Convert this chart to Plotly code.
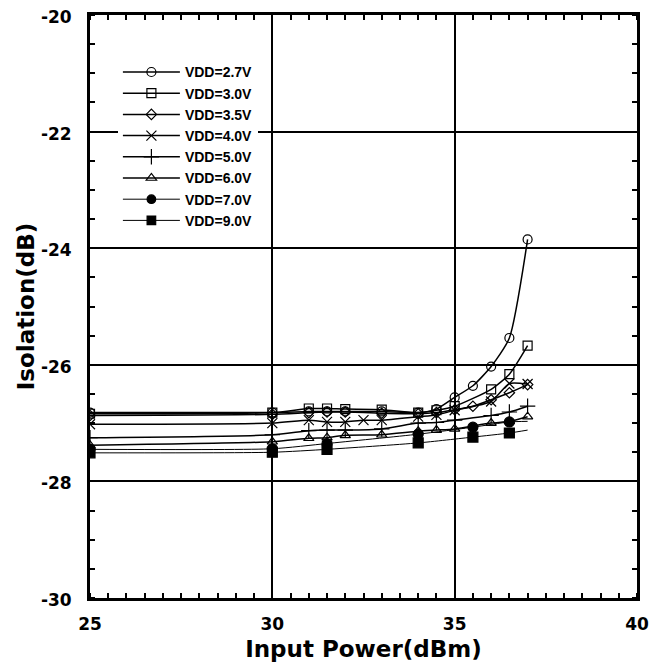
import plotly.graph_objects as go

# ---- data ----
x_27 = [25, 30, 31, 31.5, 32, 33, 34, 34.5, 35, 35.5, 36, 36.5, 37]
y_27 = [-26.82, -26.82, -26.80, -26.80, -26.80, -26.80, -26.82, -26.76, -26.56, -26.36, -26.03, -25.54, -23.85]

x_30 = [25, 30, 31, 31.5, 32, 33, 34, 34.5, 35, 36, 36.5, 37]
y_30 = [-26.84, -26.82, -26.75, -26.75, -26.76, -26.77, -26.82, -26.78, -26.71, -26.42, -26.16, -25.67]

x_35 = [25, 30, 31, 31.5, 32, 33, 34, 34.5, 35, 35.5, 36, 36.5, 37]
y_35 = [-26.87, -26.85, -26.82, -26.81, -26.81, -26.83, -26.84, -26.82, -26.77, -26.71, -26.60, -26.48, -26.34]

x_40 = [25, 30, 31, 31.5, 32, 32.5, 33, 34, 34.5, 35, 36, 36.5, 37]
y_40 = [-27.02, -27.00, -26.95, -26.98, -26.98, -26.95, -26.95, -26.89, -26.86, -26.78, -26.63, -26.32, -26.33]

x_50 = [25, 30, 31, 31.5, 32, 33, 34, 34.5, 35, 36, 36.5, 37]
y_50 = [-27.25, -27.20, -27.13, -27.12, -27.12, -27.10, -27.00, -26.99, -26.95, -26.87, -26.81, -26.71]

x_60 = [25, 30, 31, 31.5, 32, 33, 34, 34.5, 35, 36, 36.5, 37]
y_60 = [-27.38, -27.32, -27.26, -27.25, -27.21, -27.20, -27.14, -27.12, -27.10, -27.00, -26.97, -26.89]

x_70 = [25, 30, 31.5, 34, 35.5, 36.5, 37]
y_70 = [-27.45, -27.44, -27.35, -27.19, -27.07, -26.98, -26.97]

x_90 = [25, 30, 31.5, 34, 35.5, 36.5, 37]
y_90 = [-27.51, -27.50, -27.45, -27.34, -27.24, -27.17, -27.12]

names = ["VDD=2.7V", "VDD=3.0V", "VDD=3.5V", "VDD=4.0V",
         "VDD=5.0V", "VDD=6.0V", "VDD=7.0V", "VDD=9.0V"]

x_ticks = [25, 30, 35, 40]
y_ticks = [-30, -28, -26, -24, -22, -20]

series = [
    (x_27, y_27, "circle-open", 9, 1.5, None),
    (x_30, y_30, "square-open", 9, 1.5, None),
    (x_35, y_35, "diamond-open", 8, 1.5, None),
    (x_40, y_40, "x-thin-open", 10, 1.5, None),
    (x_50, y_50, "cross-thin-open", 11, 1.5, None),
    (x_60, y_60, "triangle-up-open", 9, 1.5, None),
    (x_70, y_70, "circle", 10, 1.0, [10, 10, 10, 10, 10, 10, 0]),
    (x_90, y_90, "square", 10, 1.0, [10, 10, 10, 10, 10, 10, 0]),
]

FONT = "Liberation Sans, Arial, sans-serif"
WIDE = "DejaVu Sans, Verdana, sans-serif"

fig = go.Figure()
for (xs, ys, sym, sz, lw, sizes), nm in zip(series, names):
    fig.add_trace(go.Scatter(
        x=xs, y=ys, name=nm, mode="lines+markers", opacity=1,
        line=dict(color="black", width=lw, shape="spline", smoothing=0.6),
        marker=dict(symbol=sym, size=sizes if sizes else sz, color="black", opacity=1,
                    line=dict(color="black", width=1.2)),
    ))

axis_common = dict(
    showline=True, linewidth=3, linecolor="black", mirror="allticks",
    showgrid=True, gridcolor="black", gridwidth=2,
    ticks="", zeroline=False, automargin=False, ticklabeloverflow="allow",
    tickfont=dict(family=WIDE, size=17, color="black", weight="bold"),
)

fig.update_xaxes(
    range=[25, 40], tickvals=x_ticks, ticktext=[str(v) for v in x_ticks],
    ticklabelstandoff=9,
    minor=dict(ticks="inside", dtick=0.5, ticklen=5, tickwidth=2, tickcolor="black", showgrid=False),
    title=dict(text="<b>Input Power(dBm)</b>", standoff=8,
               font=dict(family=WIDE, size=23, color="black")),
    **axis_common)
fig.update_yaxes(
    range=[-30, -20], tickvals=y_ticks, ticktext=[str(v) for v in y_ticks],
    ticklabelstandoff=12, ticklabelshift=2,
    minor=dict(ticks="inside", dtick=0.5, ticklen=5, tickwidth=2, tickcolor="black", showgrid=False),
    title=dict(text="<b>Isolation(dB)</b>", standoff=0,
               font=dict(family=WIDE, size=23, color="black")),
    **axis_common)

fig.update_layout(
    width=649, height=666,
    margin=dict(l=90, r=12, t=15, b=68),
    plot_bgcolor="white", paper_bgcolor="white",
    showlegend=True,
    legend=dict(
        x=0.051, y=0.929, xanchor="left", yanchor="top",
        bgcolor="white", borderwidth=0, itemwidth=57,
        font=dict(family=FONT, size=14, color="black", weight="bold"),
        tracegroupgap=0,
    ),
)

fig.write_html(
    "out.html",
    config={"displayModeBar": False},
    post_script="document.body.style.margin='0';document.documentElement.style.overflow='hidden';",
)
